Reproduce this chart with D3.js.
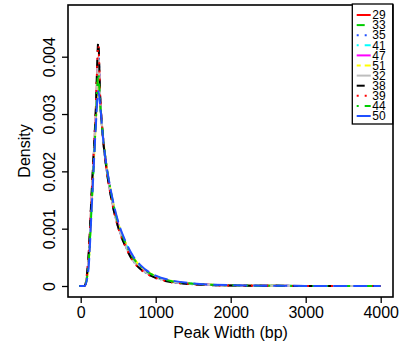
<!DOCTYPE html>
<html><head><meta charset="utf-8">
<script src="https://cdn.jsdelivr.net/npm/d3@7"></script>
<style>body{margin:0;background:#fff}svg{display:block;font-family:"Liberation Sans",Arial,sans-serif}</style>
</head><body>
<svg id="c" width="409" height="347"></svg>
<script>
// Peak width grid (bp)
const xGrid = [-20,50,100,150,200,235,260,300,350,400,500,600,700,800,1000,1200,1500,2000,2500,3000,4000];
// Density values in units of 0.001
const s29 = [0,0,0.40,1.65,2.95,4.00,3.25,2.55,2.00,1.60,1.05,0.71,0.46,0.31,0.155,0.080,0.035,0.010,0.004,0.0015,0];
const s33 = [0,0,0.35,1.60,2.90,3.90,3.22,2.56,2.02,1.63,1.07,0.72,0.47,0.32,0.160,0.083,0.036,0.011,0.004,0.0015,0];
const s35 = [0,0,0.42,1.70,3.00,4.10,3.28,2.55,1.99,1.59,1.03,0.69,0.44,0.30,0.148,0.075,0.032,0.009,0.003,0.001,0];
const s41 = [0,0,0.33,1.55,2.85,3.80,3.20,2.57,2.03,1.65,1.08,0.73,0.48,0.33,0.165,0.086,0.038,0.011,0.004,0.0015,0];
const s47 = [0,0,0.36,1.60,2.90,3.90,3.24,2.58,2.04,1.64,1.08,0.74,0.49,0.33,0.165,0.087,0.038,0.012,0.004,0.0015,0];
const s51 = [0,0,0.30,1.50,2.80,3.60,3.18,2.58,2.05,1.66,1.10,0.75,0.50,0.34,0.170,0.090,0.040,0.012,0.004,0.0015,0];
const s32 = [0,0,0.40,1.68,2.97,4.00,3.26,2.54,1.99,1.59,1.03,0.69,0.44,0.30,0.150,0.077,0.033,0.010,0.003,0.001,0];
const s38 = [0,0,0.45,1.75,3.05,4.26,3.30,2.55,1.98,1.58,1.02,0.68,0.43,0.29,0.140,0.070,0.030,0.008,0.003,0.001,0];
const s39 = [0,0,0.44,1.72,3.03,4.20,3.29,2.55,1.98,1.58,1.02,0.68,0.43,0.29,0.142,0.072,0.031,0.009,0.003,0.001,0];
const s44 = [0,0,0.32,1.52,2.82,3.70,3.19,2.57,2.04,1.66,1.09,0.74,0.49,0.34,0.168,0.088,0.039,0.012,0.004,0.0015,0];
const s50 = [0,0,0.25,1.45,2.75,3.40,3.15,2.55,2.05,1.68,1.12,0.77,0.52,0.36,0.180,0.100,0.045,0.014,0.005,0.002,0];

const seriesNames = ["29","33","35","41","47","51","32","38","39","44","50"];
const seriesValues = [s29,s33,s35,s41,s47,s51,s32,s38,s39,s44,s50];
const colors = ["#FF0000","#00CD00","#1F4FFF","#00FFFF","#FF00FF","#FFFF00","#BEBEBE","#000000","#FF0000","#00CD00","#1F4FFF"];
const dashes = [null,"8,8","2,6","2,6,8,6","14,6","4,4,12,4",null,"8,8","2,6","2,6,8,6","14,6"];

const xTicks = [0,1000,2000,3000,4000];
const xTickLabels = ["0","1000","2000","3000","4000"];
const yTicks = [0,1,2,3,4];
const yTickLabels = ["0","0.001","0.002","0.003","0.004"];

const box = {l:68, r:393, t:5, b:297};
const x = d3.scaleLinear().domain([0,4000]).range([80.7,380.7]);
const y = d3.scaleLinear().domain([0,4]).range([286,56.7]);

const svg = d3.select("#c");
const line = d3.line().x(d=>x(d[0])).y(d=>y(d[1])).curve(d3.curveMonotoneX);

seriesValues.forEach((vals,i)=>{
  svg.append("path")
    .attr("d", line(xGrid.map((g,j)=>[g, vals[j]])))
    .attr("fill","none").attr("stroke",colors[i]).attr("stroke-width",2)
    .attr("stroke-dasharray",dashes[i]);
});

// frame
svg.append("rect").attr("x",box.l).attr("y",box.t).attr("width",box.r-box.l).attr("height",box.b-box.t)
  .attr("fill","none").attr("stroke","#000").attr("stroke-width",1.6);

// x axis
const xa = svg.append("g").attr("transform",`translate(0,${box.b})`)
  .call(d3.axisBottom(x).tickValues(xTicks).tickFormat((d,i)=>xTickLabels[i]).tickSizeOuter(0).tickSize(6).tickPadding(4));
xa.select(".domain").remove();
xa.selectAll("line").attr("stroke","#000").attr("stroke-width",1.3);
xa.selectAll("text").attr("font-size",16).attr("fill","#000").attr("font-family","Liberation Sans, Arial, sans-serif");

// y axis
const ya = svg.append("g").attr("transform",`translate(${box.l},0)`)
  .call(d3.axisLeft(y).tickValues(yTicks).tickFormat((d,i)=>yTickLabels[i]).tickSizeOuter(0).tickSize(6));
ya.select(".domain").remove();
ya.selectAll("line").attr("stroke","#000").attr("stroke-width",1.3);
ya.selectAll("text").remove();
ya.selectAll(".tick").append("text")
  .attr("transform","translate(-13,0) rotate(-90)")
  .attr("text-anchor","middle").attr("font-size",16).attr("fill","#000")
  .attr("font-family","Liberation Sans, Arial, sans-serif")
  .text((d,i)=>yTickLabels[i]);

// axis titles
svg.append("text").attr("x",(box.l+box.r)/2).attr("y",338).attr("text-anchor","middle")
  .attr("font-size",16).text("Peak Width (bp)");
svg.append("text").attr("transform",`translate(30,${(box.t+box.b)/2}) rotate(-90)`).attr("text-anchor","middle")
  .attr("font-size",16).text("Density");

// legend
const lg = svg.append("g");
lg.append("rect").attr("x",352.3).attr("y",4).attr("width",40.4).attr("height",120)
  .attr("fill","#fff").attr("stroke","#000").attr("stroke-width",1.3);
seriesNames.forEach((n,i)=>{
  const yy = 15 + i*10.1;
  lg.append("line").attr("x1",356.7).attr("x2",370.7).attr("y1",yy).attr("y2",yy)
    .attr("stroke",colors[i]).attr("stroke-width",2).attr("stroke-dasharray",dashes[i]);
  lg.append("text").attr("x",372.3).attr("y",yy+4.2).attr("font-size",12).text(n);
});
</script>
</body></html>
